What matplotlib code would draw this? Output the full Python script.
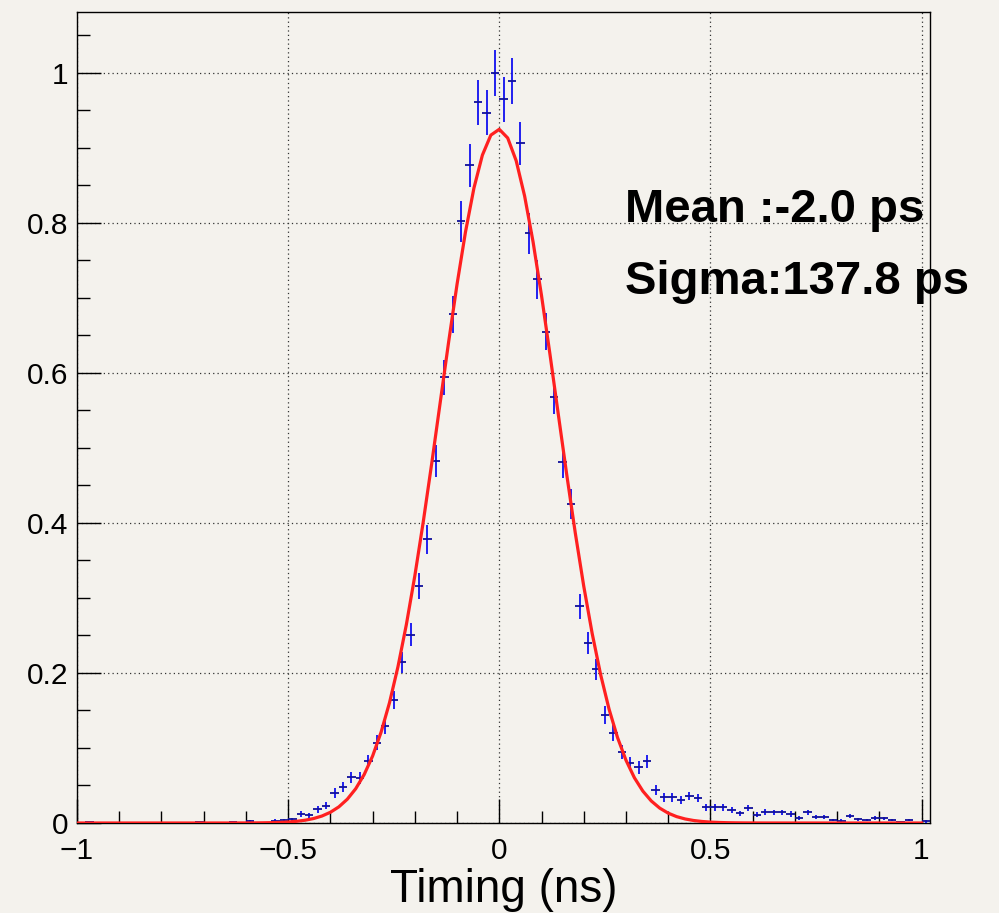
import numpy as np
import matplotlib
matplotlib.use("Agg")
import matplotlib.pyplot as plt
from matplotlib.ticker import MultipleLocator, FuncFormatter

plt.rcParams['font.family'] = ['Liberation Sans', 'DejaVu Sans']

# histogram: 101 bins of 0.02 ns from -1.00 to 1.02, normalised to the max bin
bin_lo, bin_hi, bin_w = -1.0, 1.02, 0.02
values = [
    0.000, 0.001, 0.000, 0.000, 0.000, 0.000, 0.000, 0.000, 0.000, 0.000,   # -0.99 .. -0.81
    0.000, 0.000, 0.000, 0.000, 0.001, 0.000, 0.000, 0.000, 0.001, 0.000,   # -0.79 .. -0.61
    0.002, 0.000, 0.000, 0.003, 0.004, 0.005, 0.012, 0.010, 0.018, 0.023,   # -0.59 .. -0.41
    0.040, 0.048, 0.061, 0.060, 0.082, 0.107, 0.129, 0.164, 0.214, 0.251,   # -0.39 .. -0.21
    0.316, 0.378, 0.483, 0.594, 0.678, 0.802, 0.877, 0.961, 0.947, 1.000,   # -0.19 .. -0.01
    0.965, 0.989, 0.906, 0.786, 0.725, 0.655, 0.568, 0.481, 0.425, 0.289,   #  0.01 ..  0.19
    0.240, 0.205, 0.144, 0.120, 0.095, 0.080, 0.074, 0.082, 0.044, 0.034,   #  0.21 ..  0.39
    0.034, 0.031, 0.036, 0.033, 0.021, 0.021, 0.021, 0.017, 0.013, 0.020,   #  0.41 ..  0.59
    0.011, 0.015, 0.014, 0.014, 0.012, 0.007, 0.014, 0.008, 0.008, 0.004,   #  0.61 ..  0.79
    0.003, 0.009, 0.005, 0.004, 0.007, 0.006, 0.004, 0.001, 0.004, 0.000,   #  0.81 ..  0.99
    0.002,                                                                  #  1.01
]
peak_entries = 1075  # entries in the max bin -> poisson errors

# gaussian fit result
fit_const = 0.925
fit_mean = -0.002   # ns
fit_sigma = 0.1378  # ns

values = np.array(values)
edges = np.arange(len(values) + 1) * bin_w + bin_lo
centers = 0.5 * (edges[:-1] + edges[1:])
errors = np.sqrt(values / peak_entries)
keep = values > 0

fig = plt.figure(figsize=(9.99, 9.13), dpi=100)
bg = '#f4f2ed'
fig.patch.set_facecolor(bg)
ax = fig.add_axes([77 / 999, 90 / 913, 853 / 999, 811 / 913])
ax.set_facecolor(bg)

# vertical error bars blue, bin-width bars a bit darker like the reference
ax.errorbar(centers[keep], values[keep], yerr=errors[keep],
            fmt='none', ecolor='#1010f0', elinewidth=1.3, capsize=0, zorder=3)
ax.errorbar(centers[keep], values[keep], xerr=bin_w / 2,
            fmt='none', ecolor='#10109a', elinewidth=1.3, capsize=0, zorder=3)

xf = np.linspace(-1, 1, 101)
yf = fit_const * np.exp(-0.5 * ((xf - fit_mean) / fit_sigma) ** 2)
ax.plot(xf, yf, color='#ff2020', lw=2.3, zorder=4)

ax.set_xlim(bin_lo, bin_hi)
ax.set_ylim(0, 1.0813)

ax.xaxis.set_major_locator(MultipleLocator(0.5))
ax.xaxis.set_minor_locator(MultipleLocator(0.1))
ax.yaxis.set_major_locator(MultipleLocator(0.2))
ax.yaxis.set_minor_locator(MultipleLocator(0.05))
fmt = FuncFormatter(lambda v, p: ('%g' % round(v, 2)).replace('-', '\u2212'))
ax.xaxis.set_major_formatter(fmt)
ax.yaxis.set_major_formatter(fmt)

ax.tick_params(which='both', direction='in', top=False, right=False, width=1.0, color='black')
ax.tick_params(which='major', length=17, labelsize=21.5)
ax.tick_params(which='minor', length=9)
ax.tick_params(axis='x', which='major', pad=10)
ax.tick_params(axis='y', which='major', pad=6)

ax.grid(True, which='major', color='#333333', linestyle=(0, (1, 2.5)), lw=0.9)
for s in ax.spines.values():
    s.set_linewidth(1.0)
    s.set_color('black')

ax.set_xlabel('Timing (ns)', fontsize=33, labelpad=2)

fig.text(625 / 999, 1 - 210 / 913, 'Mean :%.1f ps' % (fit_mean * 1000), fontsize=34,
         fontweight='bold', va='center', ha='left')
fig.text(625 / 999, 1 - 282 / 913, 'Sigma:%.1f ps' % (fit_sigma * 1000), fontsize=34,
         fontweight='bold', va='center', ha='left')

fig.savefig('out.png', dpi=100, facecolor=bg)
